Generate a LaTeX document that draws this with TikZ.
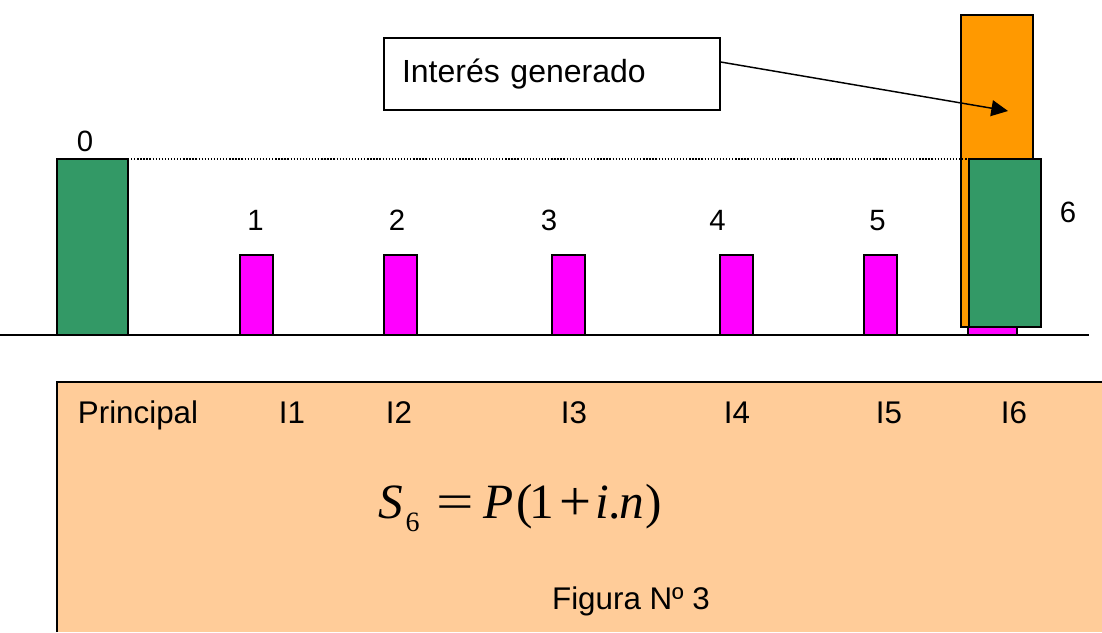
\documentclass[tikz,border=0pt]{standalone}
\usepackage{fontspec}
\setmainfont{Liberation Sans}
\newfontfamily\formfont{Liberation Serif}
\usetikzlibrary{arrows.meta}
\definecolor{bargreen}{RGB}{51,153,102}
\definecolor{barorange}{RGB}{255,153,0}
\definecolor{barmagenta}{RGB}{255,0,255}
\definecolor{peach}{RGB}{255,204,153}
\tikzset{
  bar/.style={draw=black, line width=1pt},
  num/.style={font=\fontsize{22}{26}\selectfont, inner sep=0pt, anchor=base},
  lbl/.style={font=\fontsize{23.5}{28}\selectfont, inner sep=0pt, anchor=base},
  arr/.style={-{Triangle[length=12.5pt, width=12pt]}, line width=1.1pt},
}
\begin{document}
\begin{tikzpicture}[x=0.75pt, y=-0.75pt]
  \useasboundingbox (0,0) rectangle (1102,632);

  \fill[peach] (57,382) rectangle (1102,632);
  \draw[line width=1pt] (57,632) -- (57,382) -- (1102,382);
  \draw[line width=1.1pt] (0,335) -- (1089,335);

  \filldraw[bar, fill=bargreen] (57,159) rectangle (128,335);
  \node[num] (n0) at (85,151) {0};

  \foreach \x/\lx/\t in {240/255.5/1,384/397/2,552/549/3,720/717.5/4,864/877.5/5} {
    \filldraw[bar, fill=barmagenta] (\x,255) rectangle ++(33,80);
    \node[num] (n\t) at (\lx,230) {\t};
  }

  \filldraw[bar, fill=barmagenta] (968,255) rectangle (1017,335);
  \filldraw[bar, fill=barorange] (961,15) rectangle (1033,327);
  \filldraw[bar, fill=bargreen] (969,159) rectangle (1041,327);
  \node[num] (n6) at (1068,222) {6};
  \draw[line width=0.8pt, dash pattern=on 1pt off 1.3pt] (128,159) -- (968,159);

  \node[draw, line width=1pt, fill=white, minimum width=252pt, minimum height=54pt,
        text width=225pt, inner xsep=13.5pt, align=left,
        font=\fontsize{24}{28}\selectfont] (note) at (552,74) {Interés generado};
  \coordinate (tip) at (1008,111);
  \draw[arr] ([yshift=9pt]note.east) -- (tip);

  \foreach \x/\t in {138/Principal,292/I1,399/I2,574/I3,737/I4,889/I5,1014/I6} {
    \node[lbl] (l\t) at (\x,423) {\t};
  }

  \node[inner sep=0pt, anchor=base west, font=\formfont\fontsize{37}{42}\selectfont] (form) at (378,518)
    {\textit{S}\hspace{2pt}\raisebox{-10pt}{\fontsize{21}{24}\selectfont 6}\hspace{13pt}\scalebox{1.35}[1]{=}\hspace{7pt}\textit{P}\hspace{2pt}(\hspace{-3pt}1\hspace{4pt}\raisebox{-1.5pt}{\scalebox{1.15}{+}}\hspace{3pt}\textit{i}.\hspace{-1pt}\textit{n}\hspace{1pt})};
  \node[lbl] (cap) at (631,609) {Figura Nº 3};
\end{tikzpicture}
\end{document}
